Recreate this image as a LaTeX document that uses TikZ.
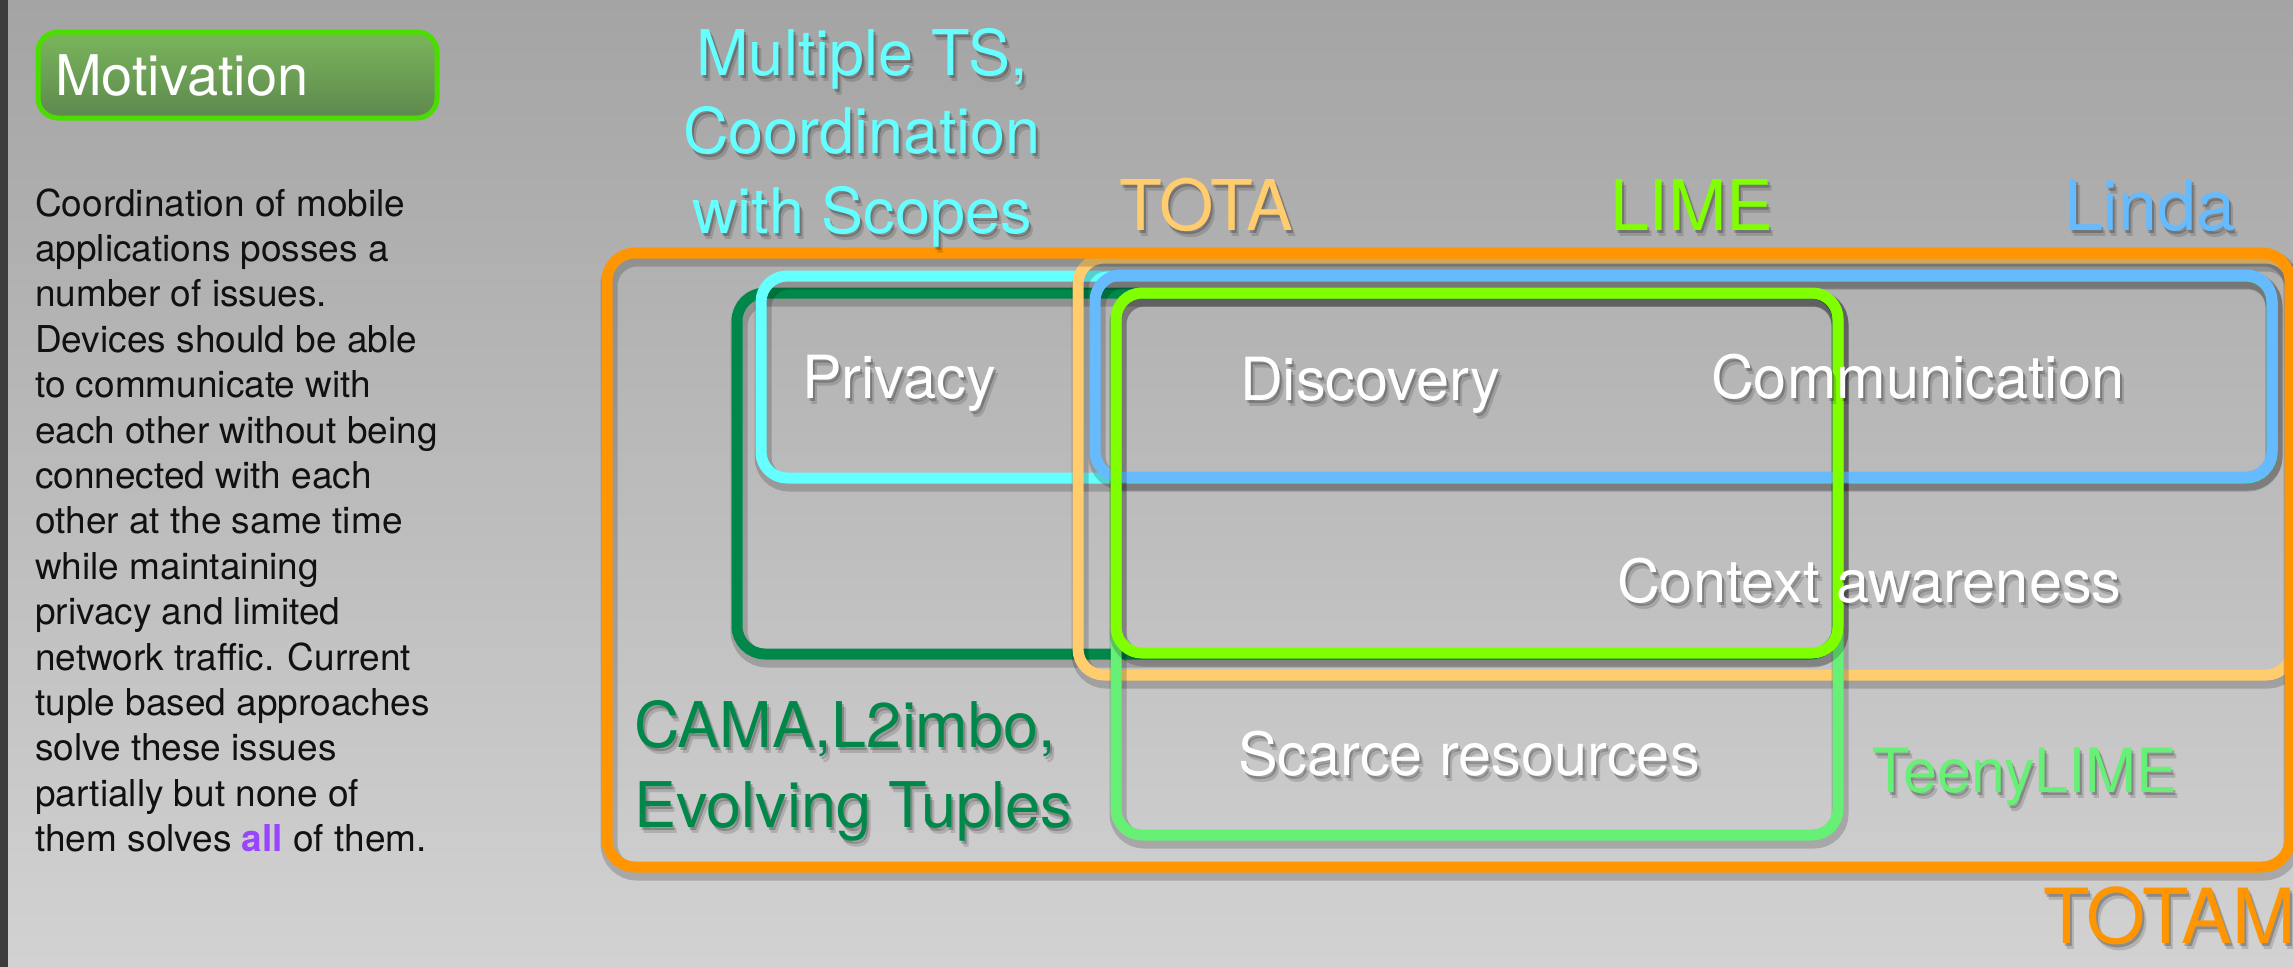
\documentclass[tikz,border=0pt]{standalone}
\usepackage{fontspec}
\setmainfont{TeX Gyre Heros}
\definecolor{bgtop}{HTML}{A4A4A4}
\definecolor{bgbot}{HTML}{D2D2D2}
\definecolor{barC}{HTML}{3C3C3C}
\definecolor{motBorder}{HTML}{4CDD00}
\definecolor{motTop}{HTML}{7AB65C}
\definecolor{motBot}{HTML}{5E884E}
\definecolor{orangeC}{HTML}{FF9500}
\definecolor{tanC}{HTML}{FFCC6E}
\definecolor{cyanC}{HTML}{66FFFF}
\definecolor{blueC}{HTML}{66BBFF}
\definecolor{limeC}{HTML}{80FF00}
\definecolor{dkgreenC}{HTML}{00884A}
\definecolor{teenyC}{HTML}{66F076}
\definecolor{allC}{HTML}{9944FF}
\definecolor{bodyC}{HTML}{111111}
\newcommand\shlabel[6]{% name, anchor, position, colour, font, text
  \node[lbl, anchor=#2, font=#5, text=black, text opacity=0.22, xshift=2pt, yshift=-3pt] (#1-s1) at (#3) {#6};
  \node[lbl, anchor=#2, font=#5, text=black, text opacity=0.14, xshift=4pt, yshift=-6pt] (#1-s2) at (#3) {#6};
  \node[lbl, anchor=#2, font=#5, text=#4] (#1) at (#3) {#6};
}
\newcommand\chalkbox[4]{% colour, corner, corner, radius
  \draw[boxsh, rounded corners=#4] (#2) rectangle (#3);
  \draw[box, rounded corners=#4, draw=#1] (#2) rectangle (#3);
}
\begin{document}
\begin{tikzpicture}[x=1pt, y=-1pt,
  lbl/.style={inner sep=0pt, outer sep=0pt},
  box/.style={line width=11pt},
  boxsh/.style={line width=17pt, draw=black, draw opacity=0.18, xshift=2pt, yshift=-5pt},
  body/.style={inner sep=0pt, anchor=base west, text=bodyC, font=\fontsize{37}{45}\selectfont},
]
\useasboundingbox (0,0) rectangle (2293,967);
\clip (0,0) rectangle (2293,967);
\shade[top color=bgtop, bottom color=bgbot] (0,0) rectangle (2293,967);
\fill[barC] (0,0) rectangle (8,967);

% Motivation header
\shadedraw[rounded corners=20pt, line width=5pt, draw=motBorder, top color=motTop, bottom color=motBot] (38,32) rectangle (437,118);
\node[lbl, anchor=base west, text=white, font=\fontsize{56}{60}\selectfont] (mot) at (55,95) {Motivation};

% body text
\foreach \t [count=\i] in {Coordination of mobile, applications posses a, number of issues., Devices should be able, to communicate with, each other without being, connected with each, other at the same time, while maintaining, privacy and limited, network traffic. Current, tuple based approaches, solve these issues, partially but none of, {them solves \textcolor{allC}{\textbf{all}} of them.}}
  \node[body] (body\i) at (35, 216+45.4*\i-45.4) {\t};

% boxes
\chalkbox{dkgreenC}{737,293}{1838,654}{28pt}
\chalkbox{cyanC}{761,276}{2272,478}{26pt}
\chalkbox{tanC}{1078,258}{2292,675}{26pt}
\chalkbox{teenyC}{1116,293}{1838,835}{26pt}
\chalkbox{blueC}{1095,275}{2272,477}{26pt}
\chalkbox{limeC}{1116,293}{1838,653}{26pt}
\chalkbox{orangeC}{607,253}{2290,867}{28pt}

% labels
\shlabel{mts1}{base}{862,75}{cyanC}{\fontsize{63}{79}\selectfont}{Multiple TS,}
\shlabel{mts2}{base}{862,153}{cyanC}{\fontsize{63}{79}\selectfont}{Coordination}
\shlabel{mts3}{base}{862,233}{cyanC}{\fontsize{63}{79}\selectfont}{with Scopes}
\shlabel{tota}{base west}{1119,230}{tanC}{\fontsize{70}{80}\selectfont}{TOTA}
\shlabel{lime}{base west}{1610,230}{limeC}{\fontsize{70}{80}\selectfont}{LIME}
\shlabel{linda}{base west}{2064,230}{blueC}{\fontsize{70}{80}\selectfont}{Linda}
\shlabel{privacy}{base west}{802,398}{white}{\fontsize{59.5}{60}\selectfont}{Privacy}
\shlabel{discovery}{base west}{1240,400}{white}{\fontsize{59.5}{60}\selectfont}{Discovery}
\shlabel{comm}{base west}{1711,398}{white}{\fontsize{59.5}{60}\selectfont}{Communication}
\shlabel{context}{base west}{1617,602}{white}{\fontsize{59.5}{60}\selectfont}{Context awareness}
\shlabel{scarce}{base west}{1238,775}{white}{\fontsize{59.5}{60}\selectfont}{Scarce resources}
\shlabel{cama1}{base west}{634,747}{dkgreenC}{\fontsize{63}{79}\selectfont}{CAMA,L2imbo,}
\shlabel{cama2}{base west}{634,827}{dkgreenC}{\fontsize{63}{79}\selectfont}{Evolving Tuples}
\shlabel{teeny}{base west}{1872,792}{teenyC}{\fontsize{61}{70}\selectfont}{TeenyLIME}
\shlabel{totam}{base west}{2043,943}{orangeC}{\fontsize{76}{80}\selectfont}{TOTAM}
\end{tikzpicture}
\end{document}
